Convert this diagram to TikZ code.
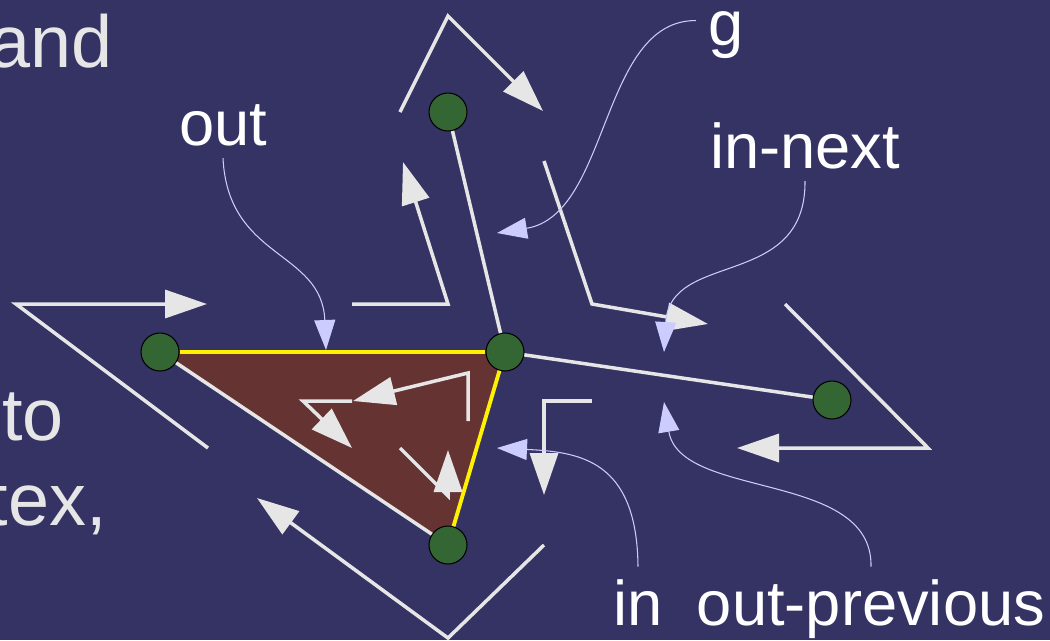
\documentclass[tikz,border=0pt]{standalone}
\usepackage{fontspec}
\setmainfont{Liberation Sans}
\usetikzlibrary{arrows.meta}
\definecolor{bgblue}{RGB}{52,51,100}
\definecolor{vgreen}{RGB}{51,102,51}
\definecolor{facebrown}{RGB}{102,51,51}
\definecolor{hegray}{RGB}{230,230,230}
\definecolor{notelilac}{RGB}{204,204,255}

\begin{document}
\begin{tikzpicture}[x=0.02cm, y=-0.02cm,
    vertex/.style={circle, draw=black, line width=0.6pt, fill=vgreen, minimum size=0.76cm, inner sep=0pt},
    meshedge/.style={draw=hegray, line width=2pt},
    bdryedge/.style={draw=yellow, line width=2.2pt},
    halfedge/.style={draw=hegray, line width=2pt, -{Triangle[length=0.84cm, width=0.56cm]}},
    notearrow/.style={draw=notelilac, line width=0.6pt, -{Triangle[length=0.6cm, width=0.42cm]}},
    notetext/.style={text=white, font=\fontsize{36}{43}\selectfont, inner sep=0pt, outer sep=0.25cm, anchor=base},
    sidetext/.style={text=hegray, font=\fontsize{42}{50}\selectfont, inner sep=0pt, anchor=base east}]

    % --- Background ---
    \fill[bgblue] (0,0) rectangle (1050,640);
    \useasboundingbox (0,0) rectangle (1050,640);

    % --- Side text (cut off at the left) ---
    \node[sidetext] (tand) at (113,67)  {and};
    \node[sidetext] (tto)  at (64,440)  {to};
    \node[sidetext] (ttex) at (107,525) {tex,};

    % --- Vertex positions ---
    \coordinate (pl) at (160,352);
    \coordinate (pb) at (505,352);
    \coordinate (pc) at (448,545);
    \coordinate (pt) at (448,112);
    \coordinate (pr) at (832,400);

    % Face
    \fill[facebrown] (pl) -- (pb) -- (pc) -- cycle;

    % Vertices
    \node[vertex] (vl) at (pl) {};
    \node[vertex] (vb) at (pb) {};
    \node[vertex] (vc) at (pc) {};
    \node[vertex] (vt) at (pt) {};
    \node[vertex] (vr) at (pr) {};

    % Edges
    \draw[bdryedge] (vl) -- (vb);
    \draw[bdryedge] (vb) -- (vc);
    \draw[meshedge] (vl) -- (vc);
    \draw[meshedge] (vt) -- (vb);
    \draw[meshedge] (vb) -- (vr);

    % --- Half-edges, outside ---
    \draw[halfedge] (208,448) -- (16,304) -- (207,304);
    \draw[halfedge] (400,112) -- (448,16) -- (543,111);
    \draw[halfedge] (352,304) -- (448,304) -- (403,162);
    \draw[halfedge] (544,161) -- (592,304) -- (708,324);
    \draw[halfedge] (785,304) -- (928,448) -- (737,448);
    \draw[halfedge] (544,545) -- (448,638) -- (257,498);
    \draw[halfedge] (592,401) -- (544,401) -- (544,495);

    % --- Half-edges, inside the face ---
    \draw[halfedge] (468,421) -- (468,373) -- (353,401);
    \draw[halfedge] (352,401) -- (303,401) -- (352,448);
    \draw[halfedge] (400,448) -- (448,496) -- (448,450);

    % --- Labels ---
    \node[notetext] (lout)  at (223,145) {out};
    \node[notetext] (lg)    at (726,45)  {g};
    \node[notetext] (lnext) at (805,168) {in-next};
    \node[notetext] (lin)   at (638,625) {in};
    \node[notetext] (lprev) at (871,625) {out-previous};

    \coordinate (aout)  at (326,350);
    \coordinate (ag)    at (497,233);
    \coordinate (anext) at (664,352);
    \coordinate (ain)   at (497,448);
    \coordinate (aprev) at (664,402);

    \draw[notearrow] (lout.south) .. controls (228,260) and (322,250) .. (aout);
    \draw[notearrow] (lg.155) .. controls (600,20) and (610,215) .. (ag);
    \draw[notearrow] (lnext.south) .. controls (806,290) and (670,250) .. (anext);
    \draw[notearrow] (lin.north) .. controls (637,460) and (580,452) .. (ain);
    \draw[notearrow] (lprev.north) .. controls (873,470) and (680,500) .. (aprev);
\end{tikzpicture}
\end{document}
